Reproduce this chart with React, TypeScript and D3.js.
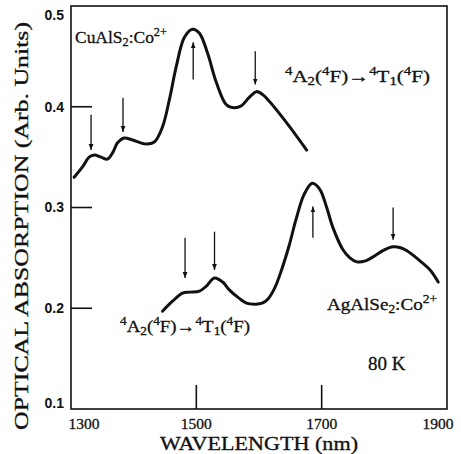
import React from "react";
import * as d3 from "d3";

const cuWl = [1305,1318,1329,1337,1348,1358,1367,1374,1385,1398,1420,1433,1446,1457,1468,1481,1494,1505,1518,1532,1548,1560,1572,1584,1596,1606,1638,1676];
const cuAbs = [0.330,0.340,0.350,0.352,0.350,0.348,0.355,0.364,0.369,0.367,0.363,0.365,0.380,0.407,0.440,0.469,0.477,0.473,0.453,0.424,0.402,0.399,0.401,0.409,0.415,0.412,0.389,0.357];
const agWl = [1446,1462,1478,1490,1505,1516,1529,1542,1553,1566,1580,1595,1605,1614,1625,1636,1648,1659,1672,1685,1697,1708,1718,1734,1745,1756,1770,1782,1800,1814,1826,1836,1855,1873,1886];
const agAbs = [0.197,0.207,0.215,0.216,0.217,0.222,0.230,0.226,0.218,0.211,0.205,0.204,0.205,0.209,0.220,0.238,0.262,0.288,0.313,0.324,0.318,0.300,0.280,0.258,0.250,0.246,0.247,0.251,0.258,0.261,0.260,0.257,0.248,0.238,0.226];

// arrows: wavelength, tail value, head value
const arrowWl = [1332, 1383, 1495, 1594, 1482, 1529, 1686, 1814];
const arrowTail = [0.392, 0.409, 0.427, 0.455, 0.270, 0.276, 0.270, 0.300];
const arrowHead = [0.357, 0.375, 0.464, 0.422, 0.230, 0.238, 0.301, 0.268];

const xTicks = [1300, 1500, 1700, 1900];
const yTicks = [0.1, 0.2, 0.3, 0.4, 0.5];

const L = 71, R = 447, T = 6, B = 409;

export default function App() {
  const x = d3.scaleLinear().domain([1300, 1900]).range([L, R]);
  const y = d3.scaleLinear().domain([0.1, 0.5]).range([B, T]);
  const line = d3.line<[number, number]>().x(d => x(d[0])).y(d => y(d[1])).curve(d3.curveCatmullRom.alpha(0.5));
  const cu = cuWl.map((w, i) => [w, cuAbs[i]] as [number, number]);
  const ag = agWl.map((w, i) => [w, agAbs[i]] as [number, number]);
  const serif = "'Liberation Serif', 'DejaVu Serif', serif";
  const sans = "'Liberation Sans', Arial, sans-serif";
  const trans = (tx: number, ty: number, len: number) => (
    <text x={tx} y={ty} fontFamily={serif} fontSize={17} fill="#111" stroke="#111" strokeWidth={0.3} textLength={len} lengthAdjust="spacingAndGlyphs">
      <tspan fontSize={12} dy={-7}>4</tspan>
      <tspan dy={7}>A</tspan>
      <tspan fontSize={12} dy={3}>2</tspan>
      <tspan dy={-3}>(</tspan>
      <tspan fontSize={12} dy={-7}>4</tspan>
      <tspan dy={7}>F)→</tspan>
      <tspan fontSize={12} dy={-7}>4</tspan>
      <tspan dy={7}>T</tspan>
      <tspan fontSize={12} dy={3}>1</tspan>
      <tspan dy={-3}>(</tspan>
      <tspan fontSize={12} dy={-7}>4</tspan>
      <tspan dy={7}>F)</tspan>
    </text>
  );
  return (
    <svg width={461} height={454} style={{ position: "absolute", left: 0, top: 0, background: "#fff" }}>
      <defs>
        <marker id="ah" viewBox="0 0 10 10" refX={10} refY={5} markerWidth={6} markerHeight={7} orient="auto" markerUnits="userSpaceOnUse">
          <path d="M0,1 L10,5 L0,9 Z" fill="#111" />
        </marker>
      </defs>
      {/* frame */}
      <rect x={L} y={T} width={R - L} height={B - T} fill="none" stroke="#111" strokeWidth={1.6} />
      {/* y ticks */}
      {yTicks.map(v => (
        <g key={v}>
          {v > 0.1 && v < 0.5 && <line x1={L} x2={L + 21} y1={y(v)} y2={y(v)} stroke="#111" strokeWidth={1.6} />}
          <text x={64} y={y(v) + (v === 0.5 ? 9 : v === 0.1 ? -6 : 0)} dy="0.35em" textAnchor="end" fontFamily={sans} fontWeight="bold" fontSize={14} fill="#111">{v.toFixed(1)}</text>
        </g>
      ))}
      {/* x ticks */}
      {xTicks.map(v => (
        <g key={v}>
          {v > 1300 && v < 1900 && <line x1={x(v)} x2={x(v)} y1={B} y2={B - 24} stroke="#111" strokeWidth={1.6} />}
          <text x={x(v) + (v === 1300 ? 13 : v === 1900 ? -9 : 0)} y={429} textAnchor="middle" fontFamily={serif} fontSize={15.5} fill="#111" stroke="#111" strokeWidth={0.3}>{v}</text>
        </g>
      ))}
      <text x={259} y={450} textAnchor="middle" fontFamily={serif} fontSize={18} textLength={198} lengthAdjust="spacingAndGlyphs" fill="#111" stroke="#111" strokeWidth={0.3}>WAVELENGTH (nm)</text>
      <text transform={`translate(28,226) rotate(-90)`} textAnchor="middle" fontFamily={serif} fontSize={18} textLength={408} lengthAdjust="spacingAndGlyphs" fill="#111" stroke="#111" strokeWidth={0.3}>OPTICAL ABSORPTION (Arb. Units)</text>
      {/* curves */}
      <path d={line(cu) || ""} fill="none" stroke="#111" strokeWidth={3} strokeLinejoin="round" strokeLinecap="round" />
      <path d={line(ag) || ""} fill="none" stroke="#111" strokeWidth={3} strokeLinejoin="round" strokeLinecap="round" />
      {/* arrows */}
      {arrowWl.map((w, i) => (
        <line key={i} x1={x(w)} x2={x(w)} y1={y(arrowTail[i])} y2={y(arrowHead[i])} stroke="#111" strokeWidth={1.3} markerEnd="url(#ah)" />
      ))}
      {/* labels */}
      <text x={75} y={43} fontFamily={serif} fontSize={17} fill="#111" stroke="#111" strokeWidth={0.3} textLength={92} lengthAdjust="spacingAndGlyphs">
        CuAlS<tspan fontSize={12} dy={3}>2</tspan><tspan dy={-3}>:Co</tspan><tspan fontSize={12} dy={-7}>2+</tspan>
      </text>
      {trans(285, 82, 145)}
      {trans(120, 332, 130)}
      <text x={327} y={310} fontFamily={serif} fontSize={17} fill="#111" stroke="#111" strokeWidth={0.3} textLength={110} lengthAdjust="spacingAndGlyphs">
        AgAlSe<tspan fontSize={12} dy={3}>2</tspan><tspan dy={-3}>:Co</tspan><tspan fontSize={12} dy={-7}>2+</tspan>
      </text>
      <text x={368} y={370} fontFamily={serif} fontSize={19} fill="#111" stroke="#111" strokeWidth={0.3}>80  K</text>
    </svg>
  );
}
